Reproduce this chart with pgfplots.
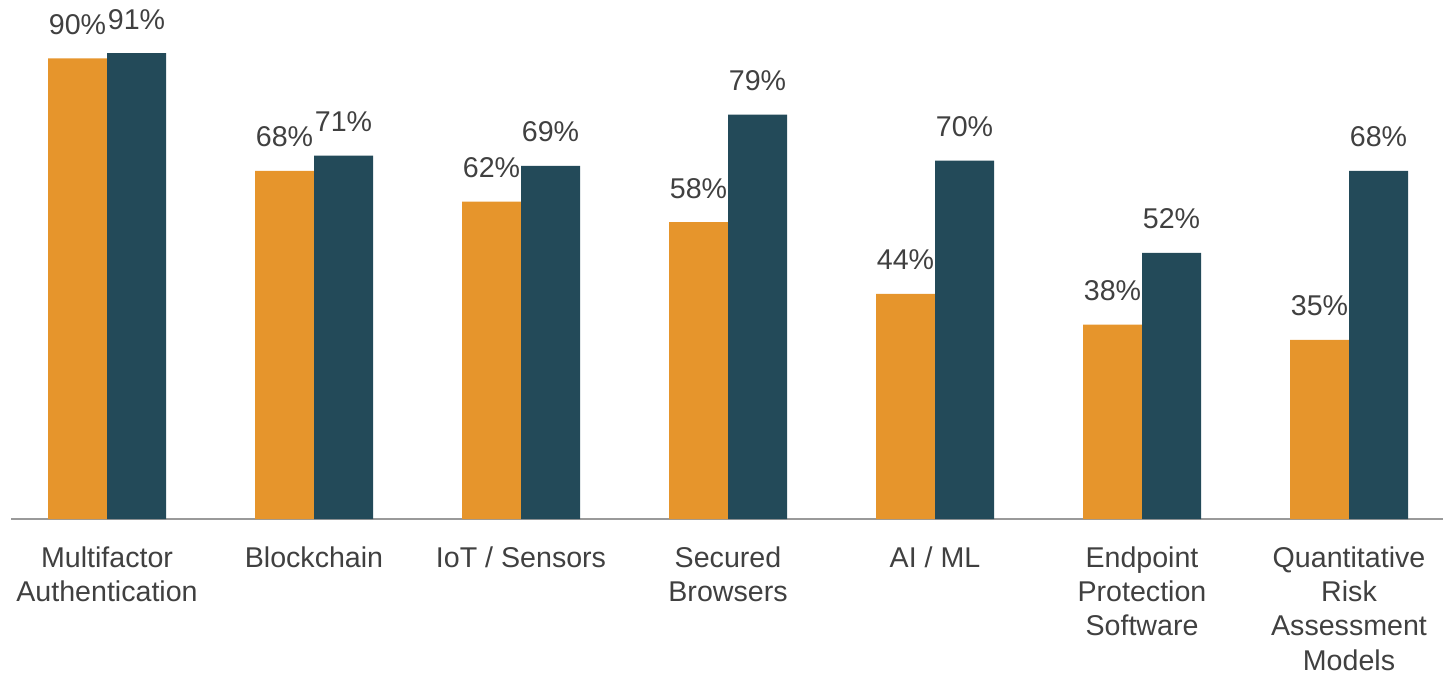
\documentclass[border=0pt]{standalone}
\usepackage{pgfplots}
\pgfplotsset{compat=1.18}
\usepackage{fontspec}
\setmainfont{Liberation Sans}
\definecolor{cOrange}{HTML}{E6952C}
\definecolor{cTeal}{HTML}{234A59}
\definecolor{cText}{HTML}{404040}
\definecolor{cAxis}{HTML}{9A9A9A}
\begin{document}
\begin{tikzpicture}
\begin{axis}[
  scale only axis,
  width=716pt, height=259.5pt,
  xmin=-0.4638, xmax=6.4541,
  ymin=0, ymax=101.4,
  ybar=0pt, bar width=29.5pt,
  axis x line=bottom, axis y line=none,
  x axis line style={-, draw=cAxis, line width=1pt},
  xtick={0,1,2,3,4,5,6},
  xticklabels={{Multifactor\\Authentication},{Blockchain},{IoT / Sensors},{Secured\\Browsers},{AI / ML},{Endpoint\\Protection\\Software},{Quantitative\\Risk\\Assessment\\Models}},
  major tick length=0pt,
  xticklabel style={align=center, anchor=north, inner sep=0pt, yshift=-13.5pt, text=cText, font=\fontsize{14.3}{17.15}\selectfont},
  ytick=\empty,
  clip=false,
  nodes near coords={\pgfmathprintnumber[assume math mode=true]{\pgfplotspointmeta}\%},
  every node near coord/.append style={anchor=base, yshift=12pt, inner sep=0pt, text=cText, font=\fontsize{14.3}{17.15}\selectfont},
]
\addplot[fill=cOrange, draw=none] coordinates {(0,90) (1,68) (2,62) (3,58) (4,44) (5,38) (6,35)};
\addplot[fill=cTeal, draw=none] coordinates {(0,91) (1,71) (2,69) (3,79) (4,70) (5,52) (6,68)};
\end{axis}
\pgfresetboundingbox
\path (-5.5pt,-78pt) rectangle (716pt,259.5pt);
\end{tikzpicture}
\end{document}
